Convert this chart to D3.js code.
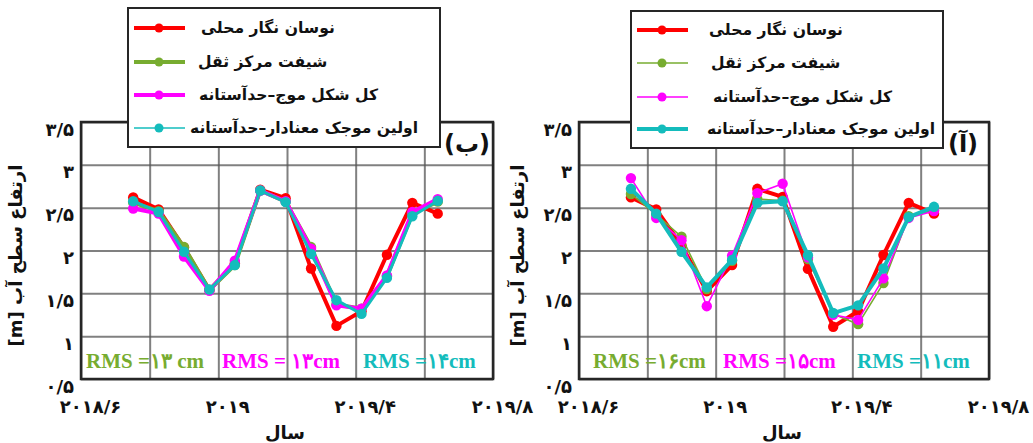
<!DOCTYPE html>
<html>
<head>
<meta charset="utf-8">
<script src="https://cdn.jsdelivr.net/npm/d3@7"></script>
<style>
  html, body { margin: 0; padding: 0; background: #fff; }
  svg { display: block; }
  .fa { font-family: "DejaVu Sans", sans-serif; font-weight: bold; }
  .rms { font-family: "Liberation Serif", "DejaVu Serif", serif; font-weight: bold; }
</style>
</head>
<body>
<svg id="chart" width="1033" height="443"></svg>
<script>
// Observation epochs (decimal years, ~27-day repeat cycle)
const times = [2018.752, 2018.826, 2018.900, 2018.974, 2019.048, 2019.122, 2019.196,
               2019.270, 2019.344, 2019.417, 2019.491, 2019.565, 2019.639];

// Series names (legend)
const seriesNames = ["نوسان نگار محلی", "شیفت مرکز ثقل", "کل شکل موج–حدآستانه", "اولین موجک معنادار–حدآستانه"];
const seriesColors = ["#ff0000", "#77ac30", "#ff00ff", "#14bcbc"];

// Panel (ب) water levels [m]
const gaugeB    = [2.62, 2.48, 2.035, 1.54, 1.85, 2.71, 2.61, 1.79, 1.12, 1.29, 1.95, 2.556, 2.43];
const centroidB = [2.56, 2.46, 2.04, 1.54, 1.83, 2.70, 2.57, 2.04, 1.37, 1.32, 1.70, 2.43, 2.57];
const waveformB = [2.49, 2.43, 1.93, 1.53, 1.88, 2.70, 2.575, 2.02, 1.36, 1.32, 1.71, 2.45, 2.60];
const subwaveB  = [2.575, 2.45, 1.985, 1.545, 1.83, 2.70, 2.565, 1.96, 1.42, 1.26, 1.68, 2.40, 2.58];
const rmsB = ["RMS =۱۳ cm", "RMS = ۱۳cm", "RMS =۱۴cm"];

// Panel (آ) water levels [m]
const gaugeA    = [2.62, 2.48, 2.06, 1.525, 1.83, 2.72, 2.625, 1.785, 1.11, 1.29, 1.947, 2.556, 2.43];
const centroidA = [2.66, 2.42, 2.16, 1.55, 1.88, 2.60, 2.58, 1.90, 1.26, 1.14, 1.62, 2.40, 2.47];
const waveformA = [2.845, 2.38, 2.12, 1.35, 1.94, 2.67, 2.78, 1.92, 1.25, 1.19, 1.675, 2.38, 2.46];
const subwaveA  = [2.72, 2.43, 1.985, 1.57, 1.89, 2.556, 2.575, 1.945, 1.27, 1.36, 1.79, 2.39, 2.51];
const rmsA = ["RMS =۱۶cm", "RMS =۱۵cm", "RMS  =۱۱cm"];

// Axis ticks
const xGrid = [2018.6, 2018.8, 2019.0, 2019.2, 2019.4, 2019.6, 2019.8];
const xTickValues = [2018.6, 2019.0, 2019.4, 2019.8];
const xTickLabels = ["۲۰۱۸/۶", "۲۰۱۹", "۲۰۱۹/۴", "۲۰۱۹/۸"];
const yTickValues = [0.5, 1, 1.5, 2, 2.5, 3, 3.5];
const yTickLabels = ["۰/۵", "۱", "۱/۵", "۲", "۲/۵", "۳", "۳/۵"];

const yTitle = "ارتفاع سطح آب [m]";
const xTitle = "سال";

const svg = d3.select("#chart");

const panels = [
  { tag: "(ب)", series: [gaugeB, centroidB, waveformB, subwaveB], widths: [4, 4, 4, 3],
    legendThick: [true, true, true, false], rms: rmsB,
    left: 81, right: 493, top: 122, bottom: 379,
    legend: { x: 128, y: 8, w: 312, h: 139, rows: [28, 62, 95, 128], textX: [201, 198, 199, 190] },
    tagX: 467, yTitleX: 22, rmsX: [86, 222, 363] },
  { tag: "(آ)", series: [gaugeA, centroidA, waveformA, subwaveA], widths: [4, 1.6, 1.6, 4],
    legendThick: [true, false, false, true], rms: rmsA,
    left: 579, right: 989, top: 122, bottom: 379,
    legend: { x: 631, y: 11, w: 312, h: 137, rows: [30, 63, 97, 129], textX: [709, 711, 713, 707] },
    tagX: 963, yTitleX: 524, rmsX: [593, 723, 857] }
];

panels.forEach(p => {
  const g = svg.append("g");
  const x = d3.scaleLinear().domain([2018.6, 2019.8]).range([p.left, p.right]);
  const y = d3.scaleLinear().domain([0.5, 3.5]).range([p.bottom, p.top]);

  // grid
  g.append("g").attr("transform", `translate(0,${p.bottom})`)
    .call(d3.axisBottom(x).tickValues(xGrid).tickSize(-(p.bottom - p.top)).tickFormat(""))
    .call(a => a.select(".domain").remove())
    .call(a => a.selectAll("line").attr("stroke", "#555").attr("stroke-opacity", 0.75).attr("stroke-width", 2));
  g.append("g").attr("transform", `translate(${p.left},0)`)
    .call(d3.axisLeft(y).tickValues(yTickValues).tickSize(-(p.right - p.left)).tickFormat(""))
    .call(a => a.select(".domain").remove())
    .call(a => a.selectAll("line").attr("stroke", "#555").attr("stroke-opacity", 0.75).attr("stroke-width", 2));

  // tick labels
  g.append("g").attr("transform", `translate(0,${p.bottom})`)
    .call(d3.axisBottom(x).tickValues(xTickValues).tickSize(0)
      .tickFormat((d, i) => xTickLabels[i]))
    .call(a => a.select(".domain").remove())
    .call(a => a.selectAll("text").attr("class", "fa").attr("font-size", 18)
      .attr("fill", "#111").attr("dx", 9).attr("dy", 31));
  g.append("g").attr("transform", `translate(${p.left},0)`)
    .call(d3.axisLeft(y).tickValues(yTickValues).tickSize(0)
      .tickFormat((d, i) => yTickLabels[i]))
    .call(a => a.select(".domain").remove())
    .call(a => a.selectAll("text").attr("class", "fa").attr("font-size", 18)
      .attr("fill", "#111").attr("dx", -4).attr("dy", 13));

  // frame
  g.append("rect").attr("x", p.left).attr("y", p.top)
    .attr("width", p.right - p.left).attr("height", p.bottom - p.top)
    .attr("fill", "none").attr("stroke", "#262626").attr("stroke-width", 2.5);

  // series
  const line = d3.line().x((d, i) => x(times[i])).y(d => y(d));
  p.series.forEach((vals, k) => {
    g.append("path").datum(vals).attr("d", line)
      .attr("fill", "none").attr("stroke", seriesColors[k])
      .attr("stroke-width", p.widths[k]).attr("stroke-linejoin", "round");
    g.selectAll(null).data(vals).enter().append("circle")
      .attr("cx", (d, i) => x(times[i])).attr("cy", d => y(d))
      .attr("r", 5.2).attr("fill", seriesColors[k]);
  });

  // RMS annotations (methods 2..4)
  p.rms.forEach((t, k) => {
    g.append("text").attr("class", "rms").attr("x", p.rmsX[k]).attr("y", 368)
      .attr("font-size", 21).attr("fill", seriesColors[k + 1]).text(t);
  });

  // panel tag
  g.append("text").attr("class", "fa").attr("x", p.tagX).attr("y", 152)
    .attr("text-anchor", "middle").attr("font-size", 24).attr("font-weight", "normal")
    .attr("fill", "#111").text(p.tag);

  // axis titles
  g.append("text").attr("class", "fa")
    .attr("transform", `translate(${p.yTitleX},${(p.top + p.bottom) / 2 + 5}) rotate(-90)`)
    .attr("direction", "rtl").attr("text-anchor", "middle")
    .attr("font-size", 18).attr("font-weight", "normal").attr("fill", "#111").text(yTitle);
  g.append("text").attr("class", "fa")
    .attr("x", (p.left + p.right) / 2 - 2).attr("y", 439)
    .attr("text-anchor", "middle").attr("font-size", 18).attr("font-weight", "normal")
    .attr("fill", "#111").text(xTitle);

  // legend
  const L = p.legend;
  const lg = g.append("g");
  lg.append("rect").attr("x", L.x).attr("y", L.y).attr("width", L.w).attr("height", L.h)
    .attr("fill", "#fff").attr("stroke", "#262626").attr("stroke-width", 2);
  seriesNames.forEach((name, k) => {
    const cy = L.rows[k];
    lg.append("line").attr("x1", L.x + 6).attr("x2", L.x + 57).attr("y1", cy).attr("y2", cy)
      .attr("stroke", seriesColors[k]).attr("stroke-width", p.legendThick[k] ? 4 : 1.6);
    lg.append("circle").attr("cx", L.x + 31).attr("cy", cy).attr("r", 4.5).attr("fill", seriesColors[k]);
    lg.append("text").attr("class", "fa").attr("x", L.textX[k]).attr("y", cy + 5)
      .attr("font-size", 15.6).attr("fill", "#111").text(name);
  });
});
</script>
</body>
</html>
